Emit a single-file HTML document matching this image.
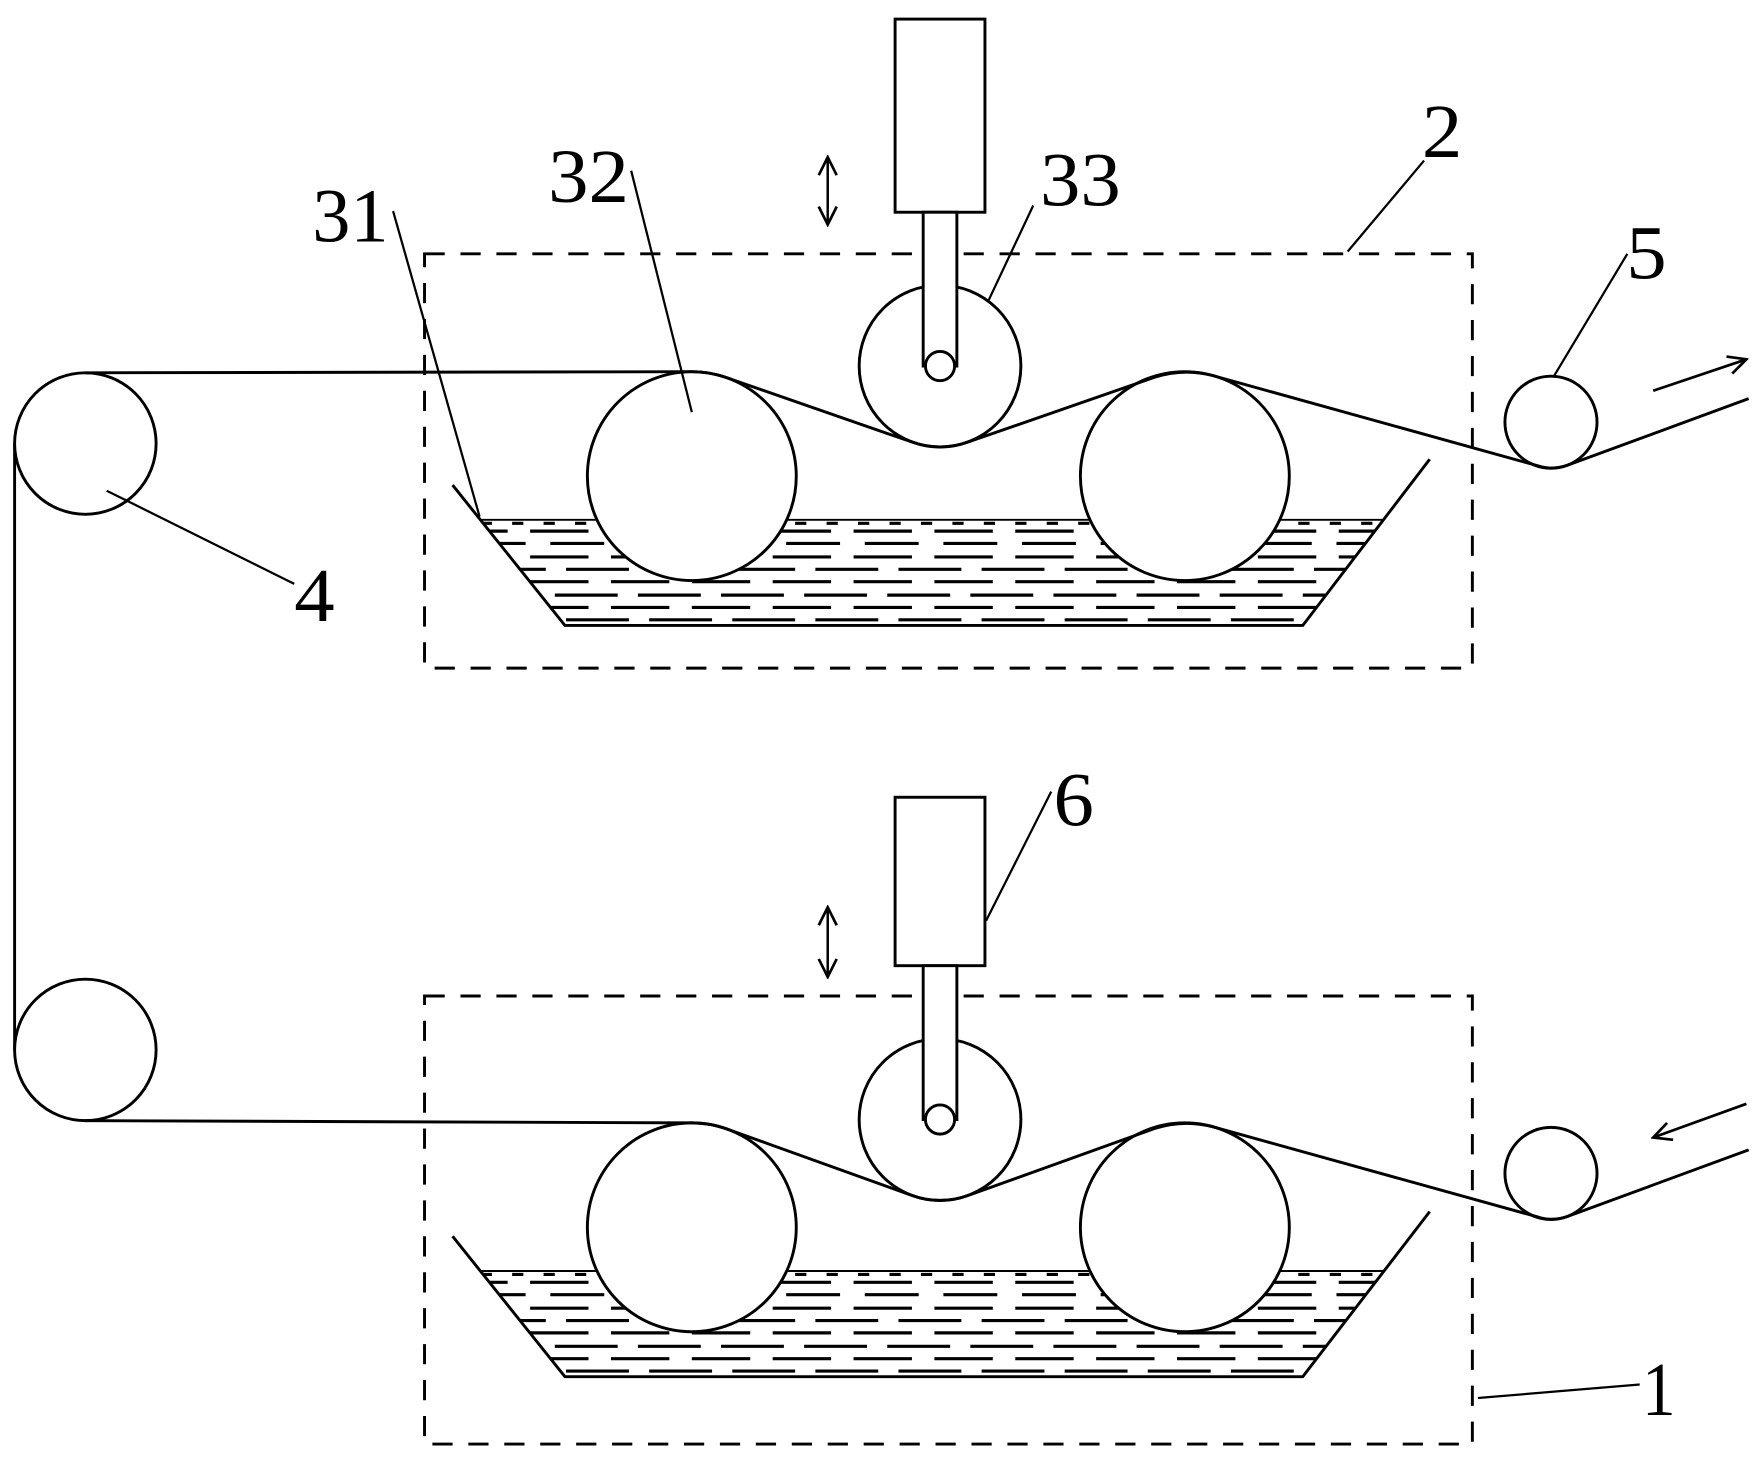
<!DOCTYPE html>
<html><head><meta charset="utf-8"><style>html,body{margin:0;padding:0;background:#fff}svg{display:block}</style></head>
<body>
<svg width="1761" height="1462" viewBox="0 0 1568 1302" preserveAspectRatio="none" xmlns="http://www.w3.org/2000/svg">
<defs>
<clipPath id="t1"><polygon points="427,462 1233,462 1160,557 503,557"/></clipPath>
<clipPath id="t2"><polygon points="427,1131 1233,1131 1160,1226 503,1226"/></clipPath>
<marker id="ah" markerWidth="20" markerHeight="20" refX="18" refY="10" orient="auto-start-reverse" markerUnits="userSpaceOnUse">
<path d="M2,2 L18,10 L2,18" fill="none" stroke="#000" stroke-width="2.4"/></marker>
</defs>
<g fill="none" stroke="#000" stroke-width="2.6">
<g clip-path="url(#t1)" stroke-width="2.8">
<line x1="400" y1="462" x2="1260" y2="462" stroke-width="3.6"/>
<line x1="400" y1="466" x2="1260" y2="466" stroke-dasharray="10 18"/>
<line x1="400" y1="473" x2="1260" y2="473" stroke-dasharray="52 20"/>
<line x1="420" y1="484" x2="1260" y2="484" stroke-dasharray="48 22"/>
<line x1="400" y1="496" x2="1260" y2="496" stroke-dasharray="52 20"/>
<line x1="430" y1="507" x2="1260" y2="507" stroke-dasharray="56 18"/>
<line x1="400" y1="518" x2="1260" y2="518" stroke-dasharray="52 20"/>
<line x1="420" y1="530" x2="1260" y2="530" stroke-dasharray="56 18"/>
<line x1="400" y1="541" x2="1260" y2="541" stroke-dasharray="52 20"/>
<line x1="430" y1="552" x2="1260" y2="552" stroke-dasharray="56 18"/>
</g>
<g clip-path="url(#t2)" stroke-width="2.8">
<line x1="400" y1="1131" x2="1260" y2="1131" stroke-width="3.6"/>
<line x1="400" y1="1135" x2="1260" y2="1135" stroke-dasharray="10 18"/>
<line x1="400" y1="1142" x2="1260" y2="1142" stroke-dasharray="52 20"/>
<line x1="420" y1="1153" x2="1260" y2="1153" stroke-dasharray="48 22"/>
<line x1="400" y1="1165" x2="1260" y2="1165" stroke-dasharray="52 20"/>
<line x1="430" y1="1176" x2="1260" y2="1176" stroke-dasharray="56 18"/>
<line x1="400" y1="1187" x2="1260" y2="1187" stroke-dasharray="52 20"/>
<line x1="420" y1="1199" x2="1260" y2="1199" stroke-dasharray="56 18"/>
<line x1="400" y1="1210" x2="1260" y2="1210" stroke-dasharray="52 20"/>
<line x1="430" y1="1221" x2="1260" y2="1221" stroke-dasharray="56 18"/>
</g>
<polyline points="403,432 503,557 1160,557 1273,409"/>
<polyline points="403,1101 503,1226 1160,1226 1273,1079"/>
<rect x="378" y="226" width="933" height="369" stroke-dasharray="18 14"/>
<rect x="378" y="887" width="933" height="399" stroke-dasharray="18 14"/>
<path d="M13,395 L13,935"/>
<g fill="#fff">
<circle cx="76" cy="395" r="63"/>
<circle cx="76" cy="935" r="63"/>
<circle cx="616" cy="424" r="93"/>
<circle cx="1055" cy="424" r="93"/>
<circle cx="616" cy="1093" r="93"/>
<circle cx="1055" cy="1093" r="93"/>
<circle cx="1381" cy="376" r="41"/>
<circle cx="1381" cy="1045" r="41"/>
<circle cx="837" cy="326" r="72"/>
<circle cx="837" cy="997" r="72"/>
<rect x="797" y="17" width="80" height="172"/>
<rect x="797" y="710" width="80" height="150"/>
<rect x="822" y="189" width="30" height="137"/>
<rect x="822" y="860" width="30" height="137"/>
<circle cx="837" cy="326" r="13"/>
<circle cx="837" cy="997" r="13"/>
</g>
<path d="M76,332 L616,331 A93,93 0 0 1 646,336 L813,394 A72,72 0 0 0 861,394 L1028,336 A93,93 0 0 1 1080,334.5 L1370,415 A41,41 0 0 0 1395,414.6 L1557,355"/>
<path d="M76,998 L616,1000 A93,93 0 0 1 646,1005 L813,1065 A72,72 0 0 0 861,1065 L1028,1005 A93,93 0 0 1 1080,1003.5 L1370,1084 A41,41 0 0 0 1395,1083.6 L1557,1024"/>
<line x1="737" y1="140" x2="737" y2="200" marker-start="url(#ah)" marker-end="url(#ah)" stroke-width="2.2"/>
<line x1="737" y1="808" x2="737" y2="870" marker-start="url(#ah)" marker-end="url(#ah)" stroke-width="2.2"/>
<line x1="1472" y1="348" x2="1555" y2="320" marker-end="url(#ah)" stroke-width="2.4"/>
<line x1="1555" y1="983" x2="1472" y2="1013" marker-end="url(#ah)" stroke-width="2.4"/>
<g stroke-width="2">
<line x1="350" y1="188" x2="427" y2="460"/>
<line x1="562" y1="152" x2="616" y2="367"/>
<line x1="920" y1="183" x2="880" y2="268"/>
<line x1="1268" y1="143" x2="1200" y2="224"/>
<line x1="1449" y1="226" x2="1383" y2="336"/>
<line x1="262" y1="520" x2="95" y2="437"/>
<line x1="936" y1="705" x2="878" y2="820"/>
<line x1="1460" y1="1233" x2="1316" y2="1245"/>
</g>
</g>
<g font-family="Liberation Serif, serif" font-size="68" fill="#000">
<text x="278" y="215" textLength="68" lengthAdjust="spacingAndGlyphs">31</text>
<text x="488" y="180" textLength="72" lengthAdjust="spacingAndGlyphs">32</text>
<text x="926" y="183" textLength="72" lengthAdjust="spacingAndGlyphs">33</text>
<text x="1266" y="140" textLength="36" lengthAdjust="spacingAndGlyphs">2</text>
<text x="1448" y="248" textLength="36" lengthAdjust="spacingAndGlyphs">5</text>
<text x="262" y="553" textLength="36" lengthAdjust="spacingAndGlyphs">4</text>
<text x="938" y="735" textLength="36" lengthAdjust="spacingAndGlyphs">6</text>
<text x="1462" y="1260" textLength="30" lengthAdjust="spacingAndGlyphs">1</text>
</g>
</svg>
</body></html>
